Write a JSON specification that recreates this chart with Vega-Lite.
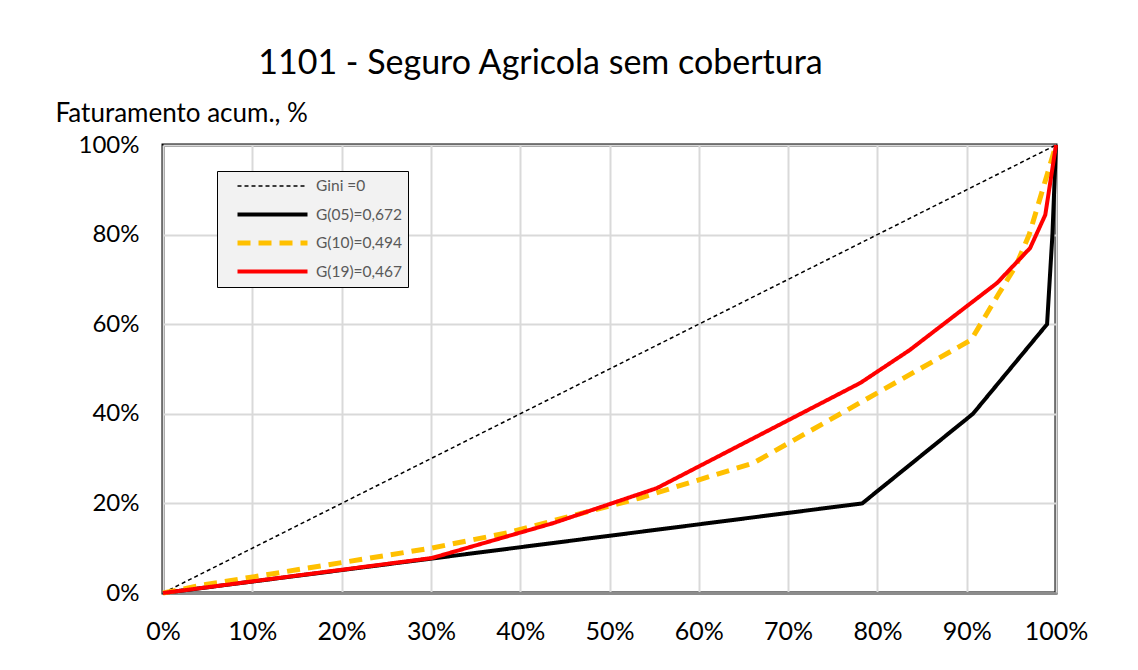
{
  "$schema": "https://vega.github.io/schema/vega-lite/v6.json",
  "width": 893,
  "height": 448,
  "autosize": "none",
  "padding": {"left": 163, "top": 145, "right": 82, "bottom": 77},
  "background": "white",
  "config": {
    "font": "Lato",
    "view": {"stroke": "black", "strokeWidth": 3}
  },
  "title": {
    "text": "1101 - Seguro Agricola sem cobertura",
    "font": "Lato",
    "fontSize": 34,
    "fontWeight": "normal",
    "color": "black",
    "anchor": "middle",
    "frame": "group",
    "dx": -69,
    "offset": 19
  },
  "data": {
    "values": [
      {"s": "Gini =0", "x": 0, "y": 0},
      {"s": "Gini =0", "x": 1, "y": 1},
      {"s": "G(05)=0,672", "x": 0, "y": 0},
      {"s": "G(05)=0,672", "x": 0.783, "y": 0.2},
      {"s": "G(05)=0,672", "x": 0.907, "y": 0.4},
      {"s": "G(05)=0,672", "x": 0.99, "y": 0.6},
      {"s": "G(05)=0,672", "x": 0.996, "y": 0.8},
      {"s": "G(05)=0,672", "x": 1, "y": 1},
      {"s": "G(10)=0,494", "x": 0, "y": 0},
      {"s": "G(10)=0,494", "x": 0.045, "y": 0.018},
      {"s": "G(10)=0,494", "x": 0.3, "y": 0.1},
      {"s": "G(10)=0,494", "x": 0.385, "y": 0.134},
      {"s": "G(10)=0,494", "x": 0.534, "y": 0.212},
      {"s": "G(10)=0,494", "x": 0.661, "y": 0.29},
      {"s": "G(10)=0,494", "x": 0.905, "y": 0.565},
      {"s": "G(10)=0,494", "x": 0.935, "y": 0.665},
      {"s": "G(10)=0,494", "x": 0.955, "y": 0.73},
      {"s": "G(10)=0,494", "x": 0.97, "y": 0.8},
      {"s": "G(10)=0,494", "x": 0.985, "y": 0.9},
      {"s": "G(10)=0,494", "x": 1, "y": 1},
      {"s": "G(19)=0,467", "x": 0, "y": 0},
      {"s": "G(19)=0,467", "x": 0.301, "y": 0.078},
      {"s": "G(19)=0,467", "x": 0.437, "y": 0.156},
      {"s": "G(19)=0,467", "x": 0.553, "y": 0.234},
      {"s": "G(19)=0,467", "x": 0.781, "y": 0.469},
      {"s": "G(19)=0,467", "x": 0.836, "y": 0.542},
      {"s": "G(19)=0,467", "x": 0.934, "y": 0.692},
      {"s": "G(19)=0,467", "x": 0.971, "y": 0.77},
      {"s": "G(19)=0,467", "x": 0.988, "y": 0.844},
      {"s": "G(19)=0,467", "x": 1, "y": 1}
    ]
  },
  "mark": {"type": "line", "clip": false},
  "encoding": {
    "x": {
      "field": "x",
      "type": "quantitative",
      "scale": {"domain": [0, 1], "nice": false, "zero": false},
      "axis": {
        "title": null,
        "values": [0, 0.1, 0.2, 0.3, 0.4, 0.5, 0.6, 0.7, 0.8, 0.9, 1],
        "format": ".0%",
        "labelFont": "Lato",
        "labelFontSize": 25,
        "labelColor": "black",
        "labelPadding": 26,
        "ticks": false,
        "domainColor": "#8c8c8c",
        "domainWidth": 3,
        "gridColor": "#d9d9d9",
        "gridWidth": 2,
        "labelFlush": false,
        "labelOverlap": false
      }
    },
    "y": {
      "field": "y",
      "type": "quantitative",
      "scale": {"domain": [0, 1], "nice": false, "zero": false},
      "axis": {
        "title": "Faturamento acum., %",
        "titleAngle": 0,
        "titleAlign": "left",
        "titleBaseline": "alphabetic",
        "titleX": -108,
        "titleY": -24,
        "titleFont": "Lato",
        "titleFontSize": 26,
        "titleFontWeight": "normal",
        "titleColor": "black",
        "values": [0, 0.2, 0.4, 0.6, 0.8, 1],
        "format": ".0%",
        "labelFont": "Lato",
        "labelFontSize": 24,
        "labelColor": "black",
        "labelPadding": 24,
        "ticks": false,
        "domain": false,
        "gridColor": "#d9d9d9",
        "gridWidth": 2,
        "labelFlush": false,
        "labelOverlap": false
      }
    },
    "color": {
      "field": "s",
      "type": "nominal",
      "scale": {
        "domain": ["Gini =0", "G(05)=0,672", "G(10)=0,494", "G(19)=0,467"],
        "range": ["black", "black", "#FFC000", "#FF0000"]
      },
      "legend": {
        "title": null,
        "orient": "none",
        "legendX": 54,
        "legendY": 26,
        "fillColor": "#f2f2f2",
        "strokeColor": "black",
        "padding": 5,
        "symbolType": "stroke",
        "symbolSize": 4900,
        "clipHeight": 20,
        "rowPadding": 8.5,
        "symbolOffset": 13,
        "labelOffset": 6,
        "labelFont": "Lato",
        "labelFontSize": 15.5,
        "labelColor": "#595959"
      }
    },
    "strokeDash": {
      "field": "s",
      "type": "nominal",
      "scale": {
        "domain": ["Gini =0", "G(05)=0,672", "G(10)=0,494", "G(19)=0,467"],
        "range": [[4, 3], [1, 0], [13, 8], [1, 0]]
      },
      "legend": null
    },
    "strokeWidth": {
      "field": "s",
      "type": "nominal",
      "scale": {
        "type": "ordinal",
        "domain": ["Gini =0", "G(05)=0,672", "G(10)=0,494", "G(19)=0,467"],
        "range": [1.5, 4, 5, 4]
      },
      "legend": null
    },
    "order": {"field": "x", "type": "quantitative"}
  }
}
